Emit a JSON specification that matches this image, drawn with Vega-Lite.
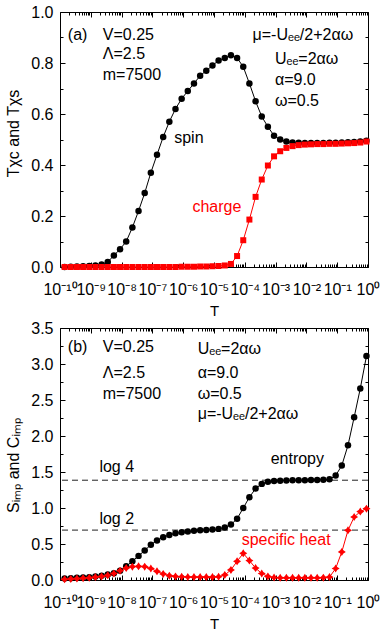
{
"$schema": "https://vega.github.io/schema/vega-lite/v6.json",
"autosize": {"type": "pad"},
"padding": {"left": 5, "top": 3, "right": 3, "bottom": 2},
"background": "white",
"datasets": {
"sus": [
{"T":1.41e-10,"v":0.000,"s":"spin"},{"T":2.24e-10,"v":0.001,"s":"spin"},{"T":3.55e-10,"v":0.002,"s":"spin"},{"T":5.62e-10,"v":0.003,"s":"spin"},{"T":8.91e-10,"v":0.004,"s":"spin"},
{"T":1.41e-9,"v":0.006,"s":"spin"},{"T":2.24e-9,"v":0.010,"s":"spin"},{"T":3.55e-9,"v":0.020,"s":"spin"},{"T":5.62e-9,"v":0.045,"s":"spin"},{"T":8.91e-9,"v":0.070,"s":"spin"},
{"T":1.41e-8,"v":0.100,"s":"spin"},{"T":2.24e-8,"v":0.155,"s":"spin"},{"T":3.55e-8,"v":0.220,"s":"spin"},{"T":5.62e-8,"v":0.290,"s":"spin"},{"T":8.91e-8,"v":0.370,"s":"spin"},
{"T":1.41e-7,"v":0.440,"s":"spin"},{"T":2.24e-7,"v":0.510,"s":"spin"},{"T":3.55e-7,"v":0.570,"s":"spin"},{"T":5.62e-7,"v":0.620,"s":"spin"},{"T":8.91e-7,"v":0.660,"s":"spin"},
{"T":1.41e-6,"v":0.690,"s":"spin"},{"T":2.24e-6,"v":0.720,"s":"spin"},{"T":3.55e-6,"v":0.750,"s":"spin"},{"T":5.62e-6,"v":0.770,"s":"spin"},{"T":8.91e-6,"v":0.790,"s":"spin"},
{"T":1.41e-5,"v":0.810,"s":"spin"},{"T":2.24e-5,"v":0.820,"s":"spin"},{"T":3.55e-5,"v":0.830,"s":"spin"},{"T":5.62e-5,"v":0.820,"s":"spin"},{"T":8.91e-5,"v":0.785,"s":"spin"},
{"T":1.41e-4,"v":0.720,"s":"spin"},{"T":2.24e-4,"v":0.650,"s":"spin"},{"T":3.55e-4,"v":0.590,"s":"spin"},{"T":5.62e-4,"v":0.550,"s":"spin"},{"T":8.91e-4,"v":0.515,"s":"spin"},
{"T":1.41e-3,"v":0.500,"s":"spin"},{"T":2.24e-3,"v":0.492,"s":"spin"},{"T":3.55e-3,"v":0.488,"s":"spin"},{"T":5.62e-3,"v":0.487,"s":"spin"},{"T":8.91e-3,"v":0.486,"s":"spin"},
{"T":0.0141,"v":0.486,"s":"spin"},{"T":0.0224,"v":0.486,"s":"spin"},{"T":0.0355,"v":0.486,"s":"spin"},{"T":0.0562,"v":0.487,"s":"spin"},{"T":0.0891,"v":0.487,"s":"spin"},
{"T":0.141,"v":0.488,"s":"spin"},{"T":0.224,"v":0.489,"s":"spin"},{"T":0.355,"v":0.490,"s":"spin"},{"T":0.562,"v":0.492,"s":"spin"},{"T":0.891,"v":0.495,"s":"spin"},
{"T":1.41e-10,"v":0.000,"s":"charge"},{"T":2.24e-10,"v":0.000,"s":"charge"},{"T":3.55e-10,"v":0.000,"s":"charge"},{"T":5.62e-10,"v":0.000,"s":"charge"},{"T":8.91e-10,"v":0.000,"s":"charge"},
{"T":1.41e-9,"v":0.000,"s":"charge"},{"T":2.24e-9,"v":0.000,"s":"charge"},{"T":3.55e-9,"v":0.000,"s":"charge"},{"T":5.62e-9,"v":0.000,"s":"charge"},{"T":8.91e-9,"v":0.000,"s":"charge"},
{"T":1.41e-8,"v":0.000,"s":"charge"},{"T":2.24e-8,"v":0.000,"s":"charge"},{"T":3.55e-8,"v":0.000,"s":"charge"},{"T":5.62e-8,"v":0.000,"s":"charge"},{"T":8.91e-8,"v":0.000,"s":"charge"},
{"T":1.41e-7,"v":0.000,"s":"charge"},{"T":2.24e-7,"v":0.000,"s":"charge"},{"T":3.55e-7,"v":0.000,"s":"charge"},{"T":5.62e-7,"v":0.000,"s":"charge"},{"T":8.91e-7,"v":0.001,"s":"charge"},
{"T":1.41e-6,"v":0.001,"s":"charge"},{"T":2.24e-6,"v":0.001,"s":"charge"},{"T":3.55e-6,"v":0.002,"s":"charge"},{"T":5.62e-6,"v":0.002,"s":"charge"},{"T":8.91e-6,"v":0.003,"s":"charge"},
{"T":1.41e-5,"v":0.004,"s":"charge"},{"T":2.24e-5,"v":0.006,"s":"charge"},{"T":3.55e-5,"v":0.012,"s":"charge"},{"T":5.62e-5,"v":0.043,"s":"charge"},{"T":8.91e-5,"v":0.105,"s":"charge"},
{"T":1.41e-4,"v":0.186,"s":"charge"},{"T":2.24e-4,"v":0.275,"s":"charge"},{"T":3.55e-4,"v":0.343,"s":"charge"},{"T":5.62e-4,"v":0.398,"s":"charge"},{"T":8.91e-4,"v":0.434,"s":"charge"},
{"T":1.41e-3,"v":0.454,"s":"charge"},{"T":2.24e-3,"v":0.467,"s":"charge"},{"T":3.55e-3,"v":0.474,"s":"charge"},{"T":5.62e-3,"v":0.478,"s":"charge"},{"T":8.91e-3,"v":0.480,"s":"charge"},
{"T":0.0141,"v":0.481,"s":"charge"},{"T":0.0224,"v":0.482,"s":"charge"},{"T":0.0355,"v":0.482,"s":"charge"},{"T":0.0562,"v":0.483,"s":"charge"},{"T":0.0891,"v":0.483,"s":"charge"},
{"T":0.141,"v":0.484,"s":"charge"},{"T":0.224,"v":0.485,"s":"charge"},{"T":0.355,"v":0.486,"s":"charge"},{"T":0.562,"v":0.488,"s":"charge"},{"T":0.891,"v":0.492,"s":"charge"}
],
"thermo": [
{"T":1.41e-10,"v":0.020,"s":"entropy"},{"T":2.24e-10,"v":0.025,"s":"entropy"},{"T":3.55e-10,"v":0.030,"s":"entropy"},{"T":5.62e-10,"v":0.035,"s":"entropy"},{"T":8.91e-10,"v":0.040,"s":"entropy"},
{"T":1.41e-9,"v":0.050,"s":"entropy"},{"T":2.24e-9,"v":0.060,"s":"entropy"},{"T":3.55e-9,"v":0.075,"s":"entropy"},{"T":5.62e-9,"v":0.095,"s":"entropy"},{"T":8.91e-9,"v":0.130,"s":"entropy"},
{"T":1.41e-8,"v":0.190,"s":"entropy"},{"T":2.24e-8,"v":0.260,"s":"entropy"},{"T":3.55e-8,"v":0.335,"s":"entropy"},{"T":5.62e-8,"v":0.410,"s":"entropy"},{"T":8.91e-8,"v":0.490,"s":"entropy"},
{"T":1.41e-7,"v":0.550,"s":"entropy"},{"T":2.24e-7,"v":0.595,"s":"entropy"},{"T":3.55e-7,"v":0.625,"s":"entropy"},{"T":5.62e-7,"v":0.648,"s":"entropy"},{"T":8.91e-7,"v":0.662,"s":"entropy"},
{"T":1.41e-6,"v":0.675,"s":"entropy"},{"T":2.24e-6,"v":0.683,"s":"entropy"},{"T":3.55e-6,"v":0.690,"s":"entropy"},{"T":5.62e-6,"v":0.695,"s":"entropy"},{"T":8.91e-6,"v":0.700,"s":"entropy"},
{"T":1.41e-5,"v":0.710,"s":"entropy"},{"T":2.24e-5,"v":0.730,"s":"entropy"},{"T":3.55e-5,"v":0.770,"s":"entropy"},{"T":5.62e-5,"v":0.850,"s":"entropy"},{"T":8.91e-5,"v":1.000,"s":"entropy"},
{"T":1.41e-4,"v":1.150,"s":"entropy"},{"T":2.24e-4,"v":1.270,"s":"entropy"},{"T":3.55e-4,"v":1.335,"s":"entropy"},{"T":5.62e-4,"v":1.365,"s":"entropy"},{"T":8.91e-4,"v":1.375,"s":"entropy"},
{"T":1.41e-3,"v":1.380,"s":"entropy"},{"T":2.24e-3,"v":1.383,"s":"entropy"},{"T":3.55e-3,"v":1.385,"s":"entropy"},{"T":5.62e-3,"v":1.386,"s":"entropy"},{"T":8.91e-3,"v":1.387,"s":"entropy"},
{"T":0.0141,"v":1.388,"s":"entropy"},{"T":0.0224,"v":1.389,"s":"entropy"},{"T":0.0355,"v":1.392,"s":"entropy"},{"T":0.0562,"v":1.400,"s":"entropy"},{"T":0.0891,"v":1.450,"s":"entropy"},
{"T":0.141,"v":1.590,"s":"entropy"},{"T":0.224,"v":1.870,"s":"entropy"},{"T":0.355,"v":2.260,"s":"entropy"},{"T":0.562,"v":2.660,"s":"entropy"},{"T":0.891,"v":3.110,"s":"entropy"},
{"T":1.41e-10,"v":0.010,"s":"heat"},{"T":2.24e-10,"v":0.015,"s":"heat"},{"T":3.55e-10,"v":0.020,"s":"heat"},{"T":5.62e-10,"v":0.025,"s":"heat"},{"T":8.91e-10,"v":0.030,"s":"heat"},
{"T":1.41e-9,"v":0.040,"s":"heat"},{"T":2.24e-9,"v":0.050,"s":"heat"},{"T":3.55e-9,"v":0.065,"s":"heat"},{"T":5.62e-9,"v":0.090,"s":"heat"},{"T":8.91e-9,"v":0.130,"s":"heat"},
{"T":1.41e-8,"v":0.165,"s":"heat"},{"T":2.24e-8,"v":0.185,"s":"heat"},{"T":3.55e-8,"v":0.190,"s":"heat"},{"T":5.62e-8,"v":0.185,"s":"heat"},{"T":8.91e-8,"v":0.160,"s":"heat"},
{"T":1.41e-7,"v":0.120,"s":"heat"},{"T":2.24e-7,"v":0.085,"s":"heat"},{"T":3.55e-7,"v":0.060,"s":"heat"},{"T":5.62e-7,"v":0.050,"s":"heat"},{"T":8.91e-7,"v":0.045,"s":"heat"},
{"T":1.41e-6,"v":0.042,"s":"heat"},{"T":2.24e-6,"v":0.040,"s":"heat"},{"T":3.55e-6,"v":0.040,"s":"heat"},{"T":5.62e-6,"v":0.040,"s":"heat"},{"T":8.91e-6,"v":0.040,"s":"heat"},
{"T":1.41e-5,"v":0.045,"s":"heat"},{"T":2.24e-5,"v":0.070,"s":"heat"},{"T":3.55e-5,"v":0.140,"s":"heat"},{"T":5.62e-5,"v":0.260,"s":"heat"},{"T":8.91e-5,"v":0.370,"s":"heat"},
{"T":1.41e-4,"v":0.270,"s":"heat"},{"T":2.24e-4,"v":0.165,"s":"heat"},{"T":3.55e-4,"v":0.090,"s":"heat"},{"T":5.62e-4,"v":0.050,"s":"heat"},{"T":8.91e-4,"v":0.035,"s":"heat"},
{"T":1.41e-3,"v":0.030,"s":"heat"},{"T":2.24e-3,"v":0.030,"s":"heat"},{"T":3.55e-3,"v":0.030,"s":"heat"},{"T":5.62e-3,"v":0.030,"s":"heat"},{"T":8.91e-3,"v":0.030,"s":"heat"},
{"T":0.0141,"v":0.030,"s":"heat"},{"T":0.0224,"v":0.030,"s":"heat"},{"T":0.0355,"v":0.032,"s":"heat"},{"T":0.0562,"v":0.040,"s":"heat"},{"T":0.0891,"v":0.160,"s":"heat"},
{"T":0.141,"v":0.390,"s":"heat"},{"T":0.224,"v":0.690,"s":"heat"},{"T":0.355,"v":0.875,"s":"heat"},{"T":0.562,"v":0.950,"s":"heat"},{"T":0.891,"v":0.990,"s":"heat"}
],
"ann1": [
{"T":1.8e-10,"v":0.91,"label":"(a)","s":"note"},
{"T":2.45e-9,"v":0.91,"label":"V=0.25","s":"note"},
{"T":2.45e-9,"v":0.835,"label":"Λ=2.5","s":"note"},
{"T":2.45e-9,"v":0.753,"label":"m=7500","s":"note"},
{"T":1.78e-4,"v":0.909,"label":"μ=-Uₑₑ/2+2αω","s":"note"},
{"T":9.5e-4,"v":0.817,"label":"Uₑₑ=2αω","s":"note"},
{"T":9.5e-4,"v":0.732,"label":"α=9.0","s":"note"},
{"T":9.5e-4,"v":0.65,"label":"ω=0.5","s":"note"},
{"T":5.1e-7,"v":0.506,"label":"spin","s":"spin"},
{"T":2.0e-6,"v":0.235,"label":"charge","s":"charge"}
],
"ann2": [
{"T":1.8e-10,"v":3.236,"label":"(b)","s":"note"},
{"T":2.45e-9,"v":3.236,"label":"V=0.25","s":"note"},
{"T":2.45e-9,"v":2.88,"label":"Λ=2.5","s":"note"},
{"T":2.45e-9,"v":2.588,"label":"m=7500","s":"note"},
{"T":2.95e-6,"v":3.21,"label":"Uₑₑ=2αω","s":"note"},
{"T":2.95e-6,"v":2.88,"label":"α=9.0","s":"note"},
{"T":2.95e-6,"v":2.588,"label":"ω=0.5","s":"note"},
{"T":2.95e-6,"v":2.31,"label":"μ=-Uₑₑ/2+2αω","s":"note"},
{"T":1.9e-9,"v":1.57,"label":"log 4","s":"note"},
{"T":1.9e-9,"v":0.85,"label":"log 2","s":"note"},
{"T":6.9e-4,"v":1.685,"label":"entropy","s":"entropy"},
{"T":7.9e-5,"v":0.55,"label":"specific heat","s":"heat"}
],
"refl": [{"v":1.386,"label":"log 4"},{"v":0.693,"label":"log 2"}]
},
"spacing": 61,
"bounds": "flush",
"resolve": {"scale": {"x": "independent", "y": "independent", "color": "independent"}},
"vconcat": [
{
"width": 308, "height": 255,
"data": {"name": "sus"},
"layer": [
{"mark": {"type": "line", "strokeWidth": 1},
 "encoding": {
  "x": {"field": "T", "type": "quantitative", "scale": {"type": "log", "domain": [1e-10, 1], "nice": false},
   "axis": {"orient": "bottom", "tickCount": 20, "labelOverlap": false, "labelFlush": false, "labelFontSize": 16, "labelPadding": 19,
    "tickSize": {"condition": {"test": "abs(log(datum.value)/LN10-round(log(datum.value)/LN10))<1e-6", "value": -5}, "value": -3},
    "labelExpr": "abs(log(datum.value)/LN10-round(log(datum.value)/LN10))<1e-6 ? ['10⁻¹⁰','10⁻⁹','10⁻⁸','10⁻⁷','10⁻⁶','10⁻⁵','10⁻⁴','10⁻³','10⁻²','10⁻¹','10⁰'][round(log(datum.value)/LN10)+10] : ''",
    "title": "T", "titlePadding": 4}},
  "y": {"field": "v", "type": "quantitative", "scale": {"domain": [0, 1], "nice": false},
   "axis": {"orient": "left", "values": [0, 0.1, 0.2, 0.3, 0.4, 0.5, 0.6, 0.7, 0.8, 0.9, 1.0], "labelPadding": 12, "labelFontSize": 16,
    "tickSize": {"condition": {"test": "abs(datum.value*5-round(datum.value*5))<1e-6", "value": -5}, "value": -3},
    "labelExpr": "abs(datum.value*5-round(datum.value*5))<1e-6 ? format(datum.value,'.1f') : ''",
    "title": "Tχc and Tχs", "titleFontSize": 16, "titlePadding": 9, "titleY": 121}},
  "color": {"field": "s", "type": "nominal", "scale": {"domain": ["spin", "charge"], "range": ["black", "red"]}, "legend": null}
 }},
{"transform": [{"filter": "datum.s=='spin'"}],
 "mark": {"type": "point", "shape": "circle", "filled": true, "color": "black", "size": 42, "opacity": 1},
 "encoding": {
  "x": {"field": "T", "type": "quantitative", "axis": {"orient": "top", "tickCount": 20, "labels": false, "title": null,
    "tickSize": {"condition": {"test": "abs(log(datum.value)/LN10-round(log(datum.value)/LN10))<1e-6", "value": -5}, "value": -3}}},
  "y": {"field": "v", "type": "quantitative", "axis": {"orient": "right", "values": [0, 0.1, 0.2, 0.3, 0.4, 0.5, 0.6, 0.7, 0.8, 0.9, 1.0], "labels": false, "title": null,
    "tickSize": {"condition": {"test": "abs(datum.value*5-round(datum.value*5))<1e-6", "value": -5}, "value": -3}}}
 }},
{"transform": [{"filter": "datum.s=='charge'"}],
 "mark": {"type": "point", "shape": "square", "filled": true, "color": "red", "size": 36, "opacity": 1},
 "encoding": {
  "x": {"field": "T", "type": "quantitative", "axis": null},
  "y": {"field": "v", "type": "quantitative", "axis": null}
 }},
{"data": {"name": "ann1"}, "transform": [{"filter": "datum.s!='charge'"}],
 "mark": {"type": "text", "align": "left", "baseline": "middle", "fontSize": 16, "color": "black"},
 "encoding": {
  "x": {"field": "T", "type": "quantitative", "axis": null},
  "y": {"field": "v", "type": "quantitative", "axis": null},
  "text": {"field": "label"}
 }},
{"data": {"name": "ann1"}, "transform": [{"filter": "datum.s=='charge'"}],
 "mark": {"type": "text", "align": "left", "baseline": "middle", "fontSize": 16, "color": "red"},
 "encoding": {
  "x": {"field": "T", "type": "quantitative", "axis": null},
  "y": {"field": "v", "type": "quantitative", "axis": null},
  "text": {"field": "label"}
 }}
],
"resolve": {"axis": {"x": "independent", "y": "independent"}}
},
{
"width": 308, "height": 252,
"data": {"name": "thermo"},
"layer": [
{"data": {"name": "refl"},
 "mark": {"type": "rule", "strokeDash": [6, 4], "color": "#222", "strokeWidth": 1},
 "encoding": {
  "y": {"field": "v", "type": "quantitative", "scale": {"domain": [0, 3.5], "nice": false},
   "axis": {"orient": "left", "values": [0, 0.25, 0.5, 0.75, 1, 1.25, 1.5, 1.75, 2, 2.25, 2.5, 2.75, 3, 3.25, 3.5], "labelPadding": 12, "labelFontSize": 16,
    "tickSize": {"condition": {"test": "abs(datum.value*2-round(datum.value*2))<1e-6", "value": -5}, "value": -3},
    "labelExpr": "abs(datum.value*2-round(datum.value*2))<1e-6 ? format(datum.value,'.1f') : ''",
    "title": "Sᵢₘₚ and Cᵢₘₚ", "titleFontSize": 16, "titlePadding": 9, "titleY": 137}}
 }},
{"mark": {"type": "line", "strokeWidth": 1},
 "encoding": {
  "x": {"field": "T", "type": "quantitative", "scale": {"type": "log", "domain": [1e-10, 1], "nice": false},
   "axis": {"orient": "bottom", "tickCount": 20, "labelOverlap": false, "labelFlush": false, "labelFontSize": 16, "labelPadding": 19,
    "tickSize": {"condition": {"test": "abs(log(datum.value)/LN10-round(log(datum.value)/LN10))<1e-6", "value": -5}, "value": -3},
    "labelExpr": "abs(log(datum.value)/LN10-round(log(datum.value)/LN10))<1e-6 ? ['10⁻¹⁰','10⁻⁹','10⁻⁸','10⁻⁷','10⁻⁶','10⁻⁵','10⁻⁴','10⁻³','10⁻²','10⁻¹','10⁰'][round(log(datum.value)/LN10)+10] : ''",
    "title": "T", "titlePadding": 4}},
  "y": {"field": "v", "type": "quantitative", "axis": {"orient": "right", "values": [0, 0.25, 0.5, 0.75, 1, 1.25, 1.5, 1.75, 2, 2.25, 2.5, 2.75, 3, 3.25, 3.5], "labels": false, "title": null,
    "tickSize": {"condition": {"test": "abs(datum.value*2-round(datum.value*2))<1e-6", "value": -5}, "value": -3}}},
  "color": {"field": "s", "type": "nominal", "scale": {"domain": ["entropy", "heat"], "range": ["black", "red"]}, "legend": null}
 }},
{"transform": [{"filter": "datum.s=='entropy'"}],
 "mark": {"type": "point", "shape": "circle", "filled": true, "color": "black", "size": 42, "opacity": 1},
 "encoding": {
  "x": {"field": "T", "type": "quantitative", "axis": {"orient": "top", "tickCount": 20, "labels": false, "title": null,
    "tickSize": {"condition": {"test": "abs(log(datum.value)/LN10-round(log(datum.value)/LN10))<1e-6", "value": -5}, "value": -3}}},
  "y": {"field": "v", "type": "quantitative", "axis": null}
 }},
{"transform": [{"filter": "datum.s=='heat'"}],
 "mark": {"type": "point", "shape": "M0,-1L0.4,-0.4L1,0L0.4,0.4L0,1L-0.4,0.4L-1,0L-0.4,-0.4Z", "filled": true, "color": "red", "size": 64, "opacity": 1},
 "encoding": {
  "x": {"field": "T", "type": "quantitative", "axis": null},
  "y": {"field": "v", "type": "quantitative", "axis": null}
 }},
{"data": {"name": "ann2"}, "transform": [{"filter": "datum.s!='heat'"}],
 "mark": {"type": "text", "align": "left", "baseline": "middle", "fontSize": 16, "color": "black"},
 "encoding": {
  "x": {"field": "T", "type": "quantitative", "axis": null},
  "y": {"field": "v", "type": "quantitative", "axis": null},
  "text": {"field": "label"}
 }},
{"data": {"name": "ann2"}, "transform": [{"filter": "datum.s=='heat'"}],
 "mark": {"type": "text", "align": "left", "baseline": "middle", "fontSize": 16, "color": "red"},
 "encoding": {
  "x": {"field": "T", "type": "quantitative", "axis": null},
  "y": {"field": "v", "type": "quantitative", "axis": null},
  "text": {"field": "label"}
 }}
],
"resolve": {"axis": {"x": "independent", "y": "independent"}}
}
],
"config": {
 "font": "Liberation Sans",
 "view": {"stroke": "black", "strokeWidth": 1},
 "axis": {"domain": false, "grid": false, "tickColor": "black", "tickWidth": 1, "labelColor": "black", "titleColor": "black",
  "labelFont": "Liberation Sans", "titleFont": "Liberation Sans", "labelFontSize": 15, "titleFontSize": 15, "titleFontWeight": "normal"},
 "text": {"font": "Liberation Sans"}
}
}
